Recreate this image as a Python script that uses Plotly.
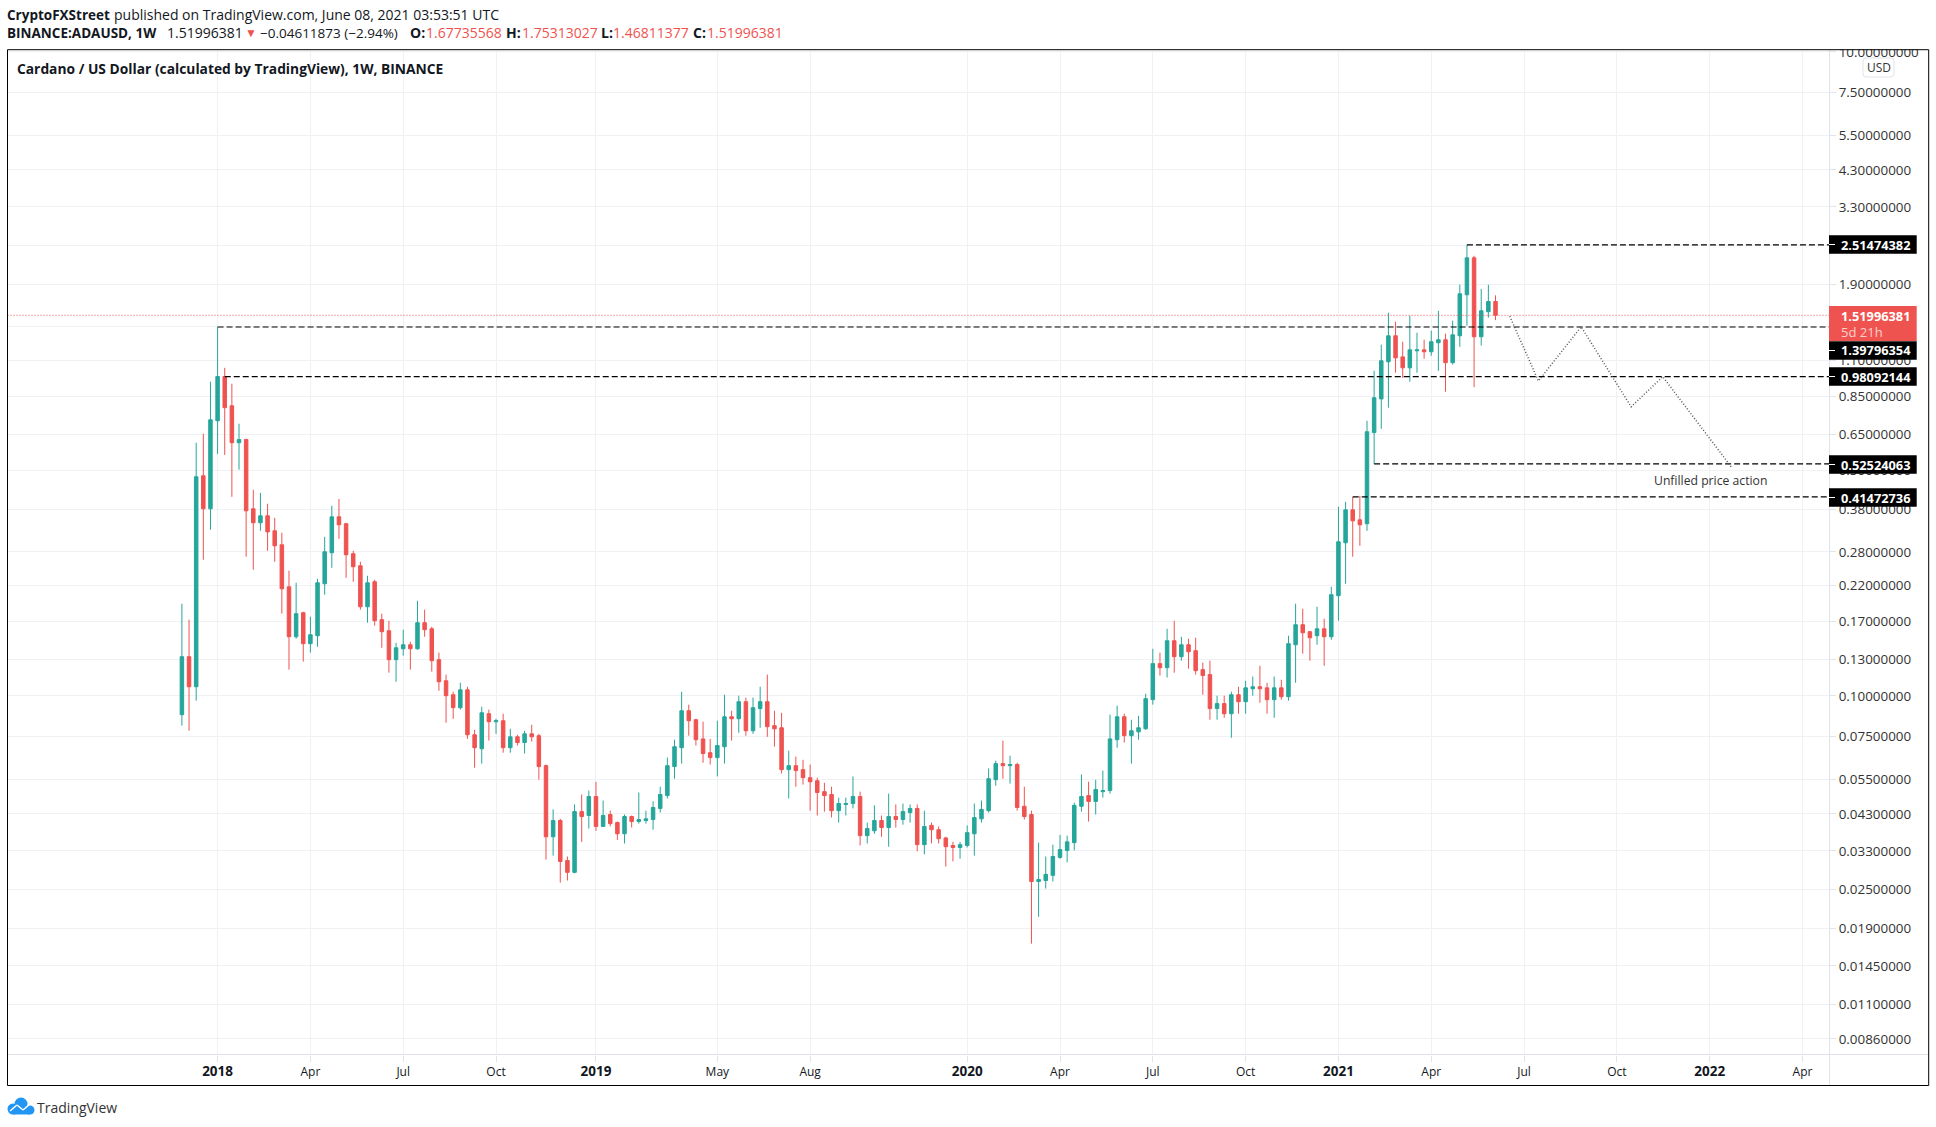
import pandas as pd
import plotly.graph_objects as go

W, H = 1936, 1127
FONT = "Open Sans"
UP, DOWN = "#26a69a", "#ef5350"
TXT = "#131722"

dates = [d.strftime("%Y-%m-%d") for d in pd.date_range("2017-11-27", periods=185, freq="7D")]

opens = [.0874,.1323,.1067,.4825,.381,.715,.98092,.796,.611,.625,
.381,.3447,.3624,.3255,.2945,.2181,.1526,.1812,.1452,.1537,
.2229,.2782,.3597,.3423,.2763,.2535,.1891,.2261,.1724,.1593,
.1295,.1400,.1441,.1400,.1687,.1615,.1295,.1114,.1008,.0919,
.1044,.0757,.0685,.0880,.0831,.0837,.0690,.0746,.0716,.0762,
.0752,.0607,.0365,.0410,.0308,.0283,.0437,.0425,.0487,.0393,
.0428,.0404,.0373,.0422,.0407,.0410,.0413,.0447,.0490,.0603,
.0690,.0899,.0843,.0735,.0666,.0643,.0695,.0861,.0849,.0959,
.0779,.0913,.0959,.0808,.0796,.0590,.0607,.0590,.0557,.0545,
.0504,.0494,.0440,.0460,.0463,.0487,.0368,.0381,.0410,.0390,
.0422,.0413,.0434,.0447,.0345,.0396,.0384,.0362,.0343,.0338,
.0343,.0373,.0415,.0440,.0549,.0616,.0607,.0612,.0454,.0428,
.0265,.0267,.0277,.0315,.0331,.0350,.0454,.0490,.0470,.0504,
.0508,.0731,.0861,.0752,.0773,.0790,.0973,.1259,.1223,.1483,
.1323,.1441,.1381,.1206,.1164,.0913,.0946,.0880,.1008,.0959,
.1052,.1067,.1059,.0973,.1059,.0994,.1441,.1663,.1582,.1537,
.1615,.1526,.2046,.2987,.3782,.3521,.3423,.657,.836,1.090,
1.313,1.129,1.044,1.179,1.187,1.171,1.249,1.276,1.083,1.313,
1.76,2.293,1.304,1.559,1.67735568]

highs = [.1933,.1724,.611,.652,.945,1.39796,1.044,.932,.700,.629,
.4366,.427,.395,.357,.321,.2446,.2245,.1825,.1761,.2309,
.3118,.3892,.4088,.3447,.2822,.2608,.2360,.2294,.180,.1711,
.1462,.1605,.1473,.1974,.1852,.1639,.1362,.1164,.1030,.1098,
.1067,.0784,.0925,.0906,.0849,.0880,.0790,.0757,.0779,.0813,
.0762,.0612,.0444,.0415,.0317,.0460,.0494,.0508,.0541,.0473,
.0440,.0407,.0428,.0425,.0501,.0440,.0470,.0522,.0643,.0731,
.1030,.0939,.0849,.0831,.0735,.0837,.1008,.0899,.1001,.0987,
.0987,.1067,.1164,.0899,.0886,.0676,.0648,.0633,.0612,.0557,
.0537,.0522,.0483,.0483,.0562,.0504,.0404,.0457,.0425,.0497,
.0460,.0463,.0460,.0460,.0440,.0404,.0393,.0365,.0352,.0352,
.0396,.0463,.0473,.0595,.0629,.0726,.0652,.0620,.0522,.0440,
.0350,.0317,.0345,.0370,.0368,.0466,.0570,.0541,.0549,.0586,
.0874,.0932,.0880,.0843,.0867,.1015,.1400,.1362,.1615,.1711,
.1526,.1504,.1515,.1268,.1286,.1001,.1001,.1030,.1067,.1114,
.1148,.1240,.1098,.1148,.1122,.1537,.1933,.1865,.1590,.1891,
.1736,.2181,.3865,.4004,.41473,.418,.715,1.022,1.232,1.548,
1.452,1.258,1.515,1.342,1.276,1.361,1.570,1.333,1.462,1.892,
2.51474,2.326,1.835,1.892,1.75313027]

lows = [.0808,.0779,.0966,.2647,.328,.564,.560,.415,.504,.2704,
.2464,.3255,.2822,.2608,.180,.1206,.1504,.1277,.1362,.1421,
.2061,.2498,.3073,.2326,.2261,.1852,.1687,.1651,.1410,.1180,
.1106,.1333,.1206,.1390,.1526,.1189,.1037,.0825,.0849,.0906,
.0735,.0598,.0616,.0726,.0762,.0666,.0666,.0701,.0662,.0721,
.0549,.0310,.0319,.0263,.0267,.0281,.0352,.0387,.0381,.0393,
.0393,.0357,.0348,.0390,.0401,.0401,.0384,.0434,.0480,.0553,
.0616,.0752,.0701,.0620,.0612,.0562,.0616,.0726,.0768,.0752,
.0762,.0796,.0746,.0695,.0574,.0480,.0522,.0530,.0440,.0425,
.0437,.0419,.0404,.0425,.0447,.0343,.0348,.0373,.0365,.0340,
.0390,.0398,.0404,.0329,.0322,.0348,.0348,.0295,.0306,.0312,
.0338,.0319,.0404,.0434,.0526,.0553,.0534,.0440,.0413,.0170,
.0206,.0252,.0265,.0312,.0304,.0331,.0437,.0407,.0428,.0483,
.0497,.0690,.0716,.0616,.0731,.0784,.0939,.1156,.1140,.1180,
.1286,.1214,.1164,.1008,.0843,.0843,.0855,.0741,.0880,.0880,
.1001,.0952,.0880,.0855,.0973,.0966,.1098,.1352,.1286,.1441,
.1240,.1493,.1711,.2229,.2704,.2924,.3255,.52524,.675,.785,
1.008,.972,.945,1.008,1.114,1.138,1.022,.880,1.068,1.213,
1.411,.909,1.224,1.494,1.46811377]

closes = [.1323,.1067,.479,.381,.720,.98092,.785,.611,.625,.3755,
.3447,.3624,.323,.2924,.215,.1526,.180,.1452,.1548,.2245,
.2802,.3597,.3398,.2743,.2517,.1891,.2245,.1711,.1582,.1295,
.1410,.1441,.1400,.1687,.1605,.1286,.1106,.1001,.0919,.1044,
.0757,.0690,.0886,.0831,.0837,.0690,.0746,.0716,.0762,.0746,
.0603,.0365,.0410,.0306,.0283,.0437,.0422,.0487,.0393,.0425,
.0401,.0373,.0422,.0407,.0413,.0415,.0450,.0494,.0607,.0695,
.0899,.0837,.0731,.0662,.0643,.0701,.0861,.0849,.0959,.0779,
.0919,.0959,.0802,.0790,.0590,.0607,.0586,.0557,.0541,.0501,
.0490,.0440,.0463,.0463,.0487,.0368,.0387,.0410,.0390,.0422,
.0413,.0437,.0447,.0345,.0393,.0384,.0360,.0340,.0338,.0345,
.0376,.0419,.0444,.0553,.0616,.0607,.0612,.0450,.0422,.0265,
.0269,.0279,.0317,.0333,.0352,.0457,.0487,.0470,.0512,.0508,
.0735,.0861,.0752,.0779,.0796,.0980,.1259,.1223,.1483,.1323,
.1441,.1371,.1197,.1156,.0913,.0946,.0880,.1008,.0959,.1059,
.1067,.1052,.0973,.1059,.0994,.1452,.1663,.1570,.1515,.1615,
.1526,.2061,.3009,.3782,.3496,.3398,.661,.843,1.098,1.313,
1.121,1.044,1.187,1.187,1.171,1.258,1.276,1.083,1.322,1.773,
2.293,1.304,1.570,1.677,1.51996381]

tick_dates = ["2018-01-01","2018-04-02","2018-07-02","2018-10-01","2019-01-07","2019-05-06","2019-08-05",
              "2020-01-06","2020-04-06","2020-07-06","2020-10-05","2021-01-04","2021-04-05","2021-07-05",
              "2021-10-04","2022-01-03","2022-04-04"]
YEAR = "<span style='font-size:13.5px'><b>%s</b></span>"
tick_names = [YEAR % "2018","Apr","Jul","Oct",YEAR % "2019","May","Aug",YEAR % "2020","Apr","Jul","Oct",
              YEAR % "2021","Apr","Jul","Oct",YEAR % "2022","Apr"]

price_ticks = [10,7.5,5.5,4.3,3.3,2.5,1.9,1.4,1.1,.85,.65,.5,.38,.28,.22,.17,.13,.1,.075,.055,.043,.033,.025,.019,.0145,.011,.0086]
price_names = ["%.8f" % v for v in price_ticks]

level_values = [2.51474382, 1.39796354, 0.98092144, 0.52524063, 0.41472736]
level_start = [180, 5, 6, 167, 164]
last_close = 1.51996381
x_left, x_right = "2017-06-09", "2022-04-30"

path_dates = ["2021-06-21","2021-07-19","2021-08-30","2021-10-18","2021-11-18","2022-01-25"]
path_prices = [1.51,0.95,1.40,0.79,0.98,0.51]

def px(x): return x / W
def py(y): return 1 - y / H

fig = go.Figure()

fig.add_trace(go.Scatter(x=[x_left, x_right], y=[last_close, last_close], mode="lines",
                         line=dict(color=DOWN, width=1, dash="1px,2px"), hoverinfo="skip"))

fig.add_trace(go.Candlestick(x=dates, open=opens, high=highs, low=lows, close=closes,
    increasing=dict(line=dict(color=UP, width=1), fillcolor=UP),
    decreasing=dict(line=dict(color=DOWN, width=1), fillcolor=DOWN),
    whiskerwidth=0))

for val, start in zip(level_values, level_start):
    fig.add_trace(go.Scatter(x=[dates[start], x_right], y=[val, val], mode="lines",
                             line=dict(color="#000000", width=1.2, dash="6px,3px"), hoverinfo="skip"))

fig.add_trace(go.Scatter(x=path_dates, y=path_prices, mode="lines",
                         line=dict(color="#555555", width=1.5, dash="1px,2px"), hoverinfo="skip"))

shapes = []
def rect(x0, y0, x1, y1, fill=None, line=None, lw=1):
    shapes.append(dict(type="rect", xref="paper", yref="paper", x0=px(x0), x1=px(x1), y0=py(y0), y1=py(y1),
                       fillcolor=fill if fill else "rgba(0,0,0,0)",
                       line=dict(color=line if line else "rgba(0,0,0,0)", width=lw if line else 0),
                       layer="above"))
def seg(x0, y0, x1, y1, color, lw=1):
    shapes.append(dict(type="line", xref="paper", yref="paper", x0=px(x0), x1=px(x1), y0=py(y0), y1=py(y1),
                       line=dict(color=color, width=lw), layer="above"))

# clip of the top tick label, frame and pane separators
rect(1830, 0, 1936, 49.5, fill="#ffffff")
seg(7.5, 1054.5, 1928, 1054.5, "#e0e3eb")
seg(1829.5, 50, 1829.5, 1085, "#e0e3eb")
rect(7.5, 49.7, 1928.7, 1085.5, line="#000000", lw=1)

annotations = []
def text(x, y, s, size=14, color=TXT, anchor="left", bold=False):
    annotations.append(dict(xref="paper", yref="paper", x=px(x), y=py(y), text=("<b>%s</b>" % s) if bold else s,
                            showarrow=False, xanchor=anchor, yanchor="middle",
                            font=dict(family=FONT, size=size, color=color), borderpad=0, borderwidth=0))

# header
text(7, 14.5, "CryptoFXStreet", bold=True, size=13.5)
text(114, 14.5, "published on TradingView.com, June 08, 2021 03:53:51 UTC", size=14)
text(7, 33, "BINANCE:ADAUSD, 1W", bold=True, size=13.5)
text(167, 33, "1.51996381")
text(245, 33, "▼", size=12, color=DOWN)
text(260, 33, "−0.04611873 (−2.94%)", size=13.5)
text(410, 33, "O:", bold=True)
text(426, 33, "1.67735568", color=DOWN)
text(506, 33, "H:", bold=True)
text(522, 33, "1.75313027", color=DOWN)
text(601, 33, "L:", bold=True)
text(613, 33, "1.46811377", color=DOWN)
text(693, 33, "C:", bold=True)
text(707, 33, "1.51996381", color=DOWN)
text(17, 68, "Cardano / US Dollar (calculated by TradingView), 1W, BINANCE", bold=True, size=13.8)

# price tags
for label, yc in [("2.51474382", 244.5), ("1.39796354", 350.5), ("0.98092144", 376.5),
                  ("0.52524063", 464.5), ("0.41472736", 497.5)]:
    rect(1829, yc - 9.3, 1916.7, yc + 9.3, fill="#000000")
    seg(1829, yc, 1835, yc, "#ffffff")
    text(1840.5, yc, label, color="#ffffff", bold=True, size=12.8)
rect(1829, 306, 1916.7, 341, fill=DOWN)
text(1840.5, 316, "1.51996381", color="#ffffff", bold=True, size=12.8)
text(1840.5, 332, "5d 21h", color="#fdd0ce", size=13)

# currency button
shapes.append(dict(type="path", xref="paper", yref="paper",
                   path="M %f %f L %f %f Q %f %f %f %f L %f %f Q %f %f %f %f L %f %f Q %f %f %f %f L %f %f Q %f %f %f %f Z" % (
                       px(1866), py(58), px(1891), py(58), px(1894), py(58), px(1894), py(61),
                       px(1894), py(74), px(1894), py(77), px(1891), py(77),
                       px(1866), py(77), px(1863), py(77), px(1863), py(74),
                       px(1863), py(61), px(1863), py(58), px(1866), py(58)),
                   fillcolor="#ffffff", line=dict(color="#e0e3eb", width=1), layer="above"))
text(1878.5, 67.5, "USD", size=12, anchor="center", color="#333333")

text(1710, 480.5, "Unfilled price action", size=12.2, anchor="center", color="#333333")

# logo
BLUE = "#2196f3"
for cx, cy, r in [(13, 1109, 5.5), (21, 1104, 6.5), (30, 1110, 4.5)]:
    shapes.append(dict(type="circle", xref="paper", yref="paper", x0=px(cx - r), x1=px(cx + r),
                       y0=py(cy - r), y1=py(cy + r), fillcolor=BLUE, line=dict(width=0), layer="above"))
rect(13, 1106, 30, 1114.5, fill=BLUE)
for a, b, c, d in [(10, 1111, 17, 1105), (17, 1105, 23, 1110), (23, 1110, 30, 1104)]:
    seg(a, b, c, d, "#ffffff", 1.5)
text(37, 1107, "TradingView", size=14, color="#333333")

fig.update_layout(
    width=W, height=H, margin=dict(l=0, r=0, t=0, b=0, autoexpand=False),
    paper_bgcolor="#ffffff", plot_bgcolor="#ffffff", showlegend=False, dragmode=False,
    font=dict(family=FONT, size=12.5, color=TXT),
    xaxis=dict(type="date", domain=[px(7.5), px(1829)], range=[x_left, x_right], rangeslider=dict(visible=False),
               tickmode="array", tickvals=tick_dates, ticktext=tick_names, ticks="outside", ticklen=6,
               tickcolor="#e0e3eb", tickwidth=1, showgrid=True, gridcolor="#f0f1f5", gridwidth=1,
               showline=False, zeroline=False, tickfont=dict(family=FONT, size=12, color=TXT), tickangle=0),
    yaxis=dict(type="log", side="right", domain=[py(1055), py(50.7)], range=[-2.1154, 1.00357],
               tickmode="array", tickvals=price_ticks, ticktext=price_names, ticks="outside", ticklen=6,
               tickcolor="#e0e3eb", tickwidth=1, showgrid=True, gridcolor="#f0f1f5", gridwidth=1,
               showline=False, zeroline=False, tickfont=dict(family=FONT, size=13.4, color="#333333")),
    shapes=shapes, annotations=annotations,
)

fig.write_html("out.html", config=dict(displayModeBar=False),
               post_script="document.body.style.margin='0';document.body.style.overflow='hidden';")
